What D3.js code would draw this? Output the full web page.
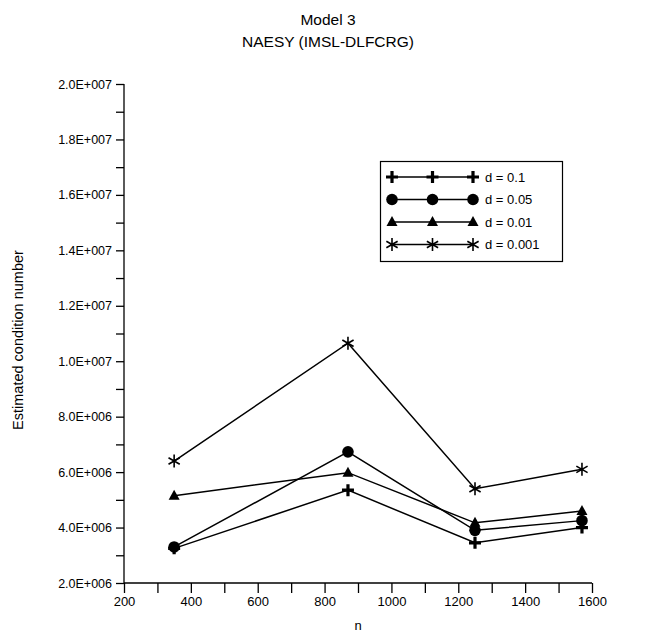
<!DOCTYPE html>
<html><head><meta charset="utf-8">
<script src="https://cdn.jsdelivr.net/npm/d3@7"></script>
<style>body{margin:0;background:#fff}svg{display:block}text{font-family:"Liberation Sans",Arial,sans-serif;fill:#000}</style>
</head><body>
<svg id="c" width="656" height="634"></svg>
<script>
const nValues = [350, 870, 1250, 1570];
const seriesNames = ["d = 0.1", "d = 0.05", "d = 0.01", "d = 0.001"];
const d01 = [3.25e6, 5.35e6, 3.45e6, 4.0e6];
const d005 = [3.3e6, 6.73e6, 3.9e6, 4.25e6];
const d001 = [5.15e6, 5.98e6, 4.17e6, 4.6e6];
const d0001 = [6.4e6, 10.65e6, 5.4e6, 6.1e6];
const xTicks = [200, 400, 600, 800, 1000, 1200, 1400, 1600];
const yTicks = [2e6, 4e6, 6e6, 8e6, 10e6, 12e6, 14e6, 16e6, 18e6, 20e6];
const markers = ["plus", "circle", "triangle", "star"];

const series = [d01, d005, d001, d0001].map((v, i) => ({name: seriesNames[i], marker: markers[i], values: v}));

const svg = d3.select("#c");
const L = 124, R = 592, T = 84, B = 583;
const x = d3.scaleLinear().domain([200, 1600]).range([L, R]);
const y = d3.scaleLinear().domain([2e6, 2e7]).range([B, T]);

function fmt(v){
  const e = Math.floor(Math.log10(v));
  const m = v / Math.pow(10, e);
  return m.toFixed(1) + "E+" + String(e).padStart(3, "0");
}

// title
svg.append("text").attr("x", 328).attr("y", 25).attr("text-anchor", "middle").style("font-size", "15.5px").text("Model 3");
svg.append("text").attr("x", 328).attr("y", 47).attr("text-anchor", "middle").style("font-size", "15.5px").text("NAESY (IMSL-DLFCRG)");

// y axis
const yAxis = d3.axisLeft(y).tickValues(d3.range(2e6, 2.0001e7, 1e6)).tickSize(8).tickFormat(d => yTicks.includes(d) ? fmt(d) : "");
const gy = svg.append("g").attr("transform", `translate(${L},0)`).call(yAxis);
gy.select(".domain").attr("d", `M0,${T}V${B}`);
gy.selectAll("line").attr("stroke-width", 1.3);
gy.select(".domain").attr("stroke-width", 1.3);
gy.selectAll("text").style("font-size", "12.5px").style("font-family", "Liberation Sans, Arial, sans-serif").attr("x", -12);

// x axis
const xAxis = d3.axisBottom(x).tickValues(d3.range(200, 1601, 100)).tickSize(10).tickFormat(d => xTicks.includes(d) ? d : "");
const gx = svg.append("g").attr("transform", `translate(0,${B})`).call(xAxis);
gx.select(".domain").attr("d", `M${L},0H${R}`).attr("stroke-width", 1.3);
gx.selectAll("line").attr("stroke-width", 1.3);
gx.selectAll("text").style("font-size", "13px").style("font-family", "Liberation Sans, Arial, sans-serif").attr("y", 14);

// axis titles
svg.append("text").attr("transform", `translate(23,340) rotate(-90)`).attr("text-anchor", "middle").style("font-size", "14.5px").text("Estimated condition number");
svg.append("text").attr("x", (L+R)/2).attr("y", 630).attr("text-anchor", "middle").style("font-size", "13px").text("n");

function drawMarker(g, type, cx, cy){
  if (type === "plus") {
    g.append("path").attr("d", `M${cx-6},${cy}H${cx+6}M${cx},${cy-6}V${cy+6}`).attr("stroke", "#000").attr("stroke-width", 3.2).attr("fill", "none");
  } else if (type === "circle") {
    g.append("circle").attr("cx", cx).attr("cy", cy).attr("r", 5.8).attr("fill", "#000");
  } else if (type === "triangle") {
    g.append("path").attr("d", `M${cx},${cy-6}L${cx+5.5},${cy+4}L${cx-5.5},${cy+4}Z`).attr("fill", "#000");
  } else {
    const r = 6.5;
    let d = `M${cx},${cy-r}V${cy+r}`;
    [30, -30].forEach(a => {
      const dx = r*Math.cos(a*Math.PI/180), dy = r*Math.sin(a*Math.PI/180);
      d += `M${cx-dx},${cy-dy}L${cx+dx},${cy+dy}`;
    });
    g.append("path").attr("d", d).attr("stroke", "#000").attr("stroke-width", 1.6).attr("fill", "none");
  }
}

const line = d3.line().x((d, i) => x(nValues[i])).y(d => y(d));
const gs = svg.append("g");
series.forEach(s => {
  gs.append("path").attr("d", line(s.values)).attr("fill", "none").attr("stroke", "#000").attr("stroke-width", 1.5);
});
series.forEach(s => {
  s.values.forEach((v, i) => drawMarker(gs, s.marker, x(nValues[i]), y(v)));
});

// legend
const lg = svg.append("g");
lg.append("rect").attr("x", 380.5).attr("y", 161.5).attr("width", 182).attr("height", 100).attr("fill", "#fff").attr("stroke", "#000").attr("stroke-width", 1.2);
const rowY = [177, 199.5, 222, 244.5];
series.forEach((s, i) => {
  const yy = rowY[i];
  lg.append("path").attr("d", `M392,${yy}H473`).attr("stroke", "#000").attr("stroke-width", 1.3);
  [392, 432.5, 473].forEach(xx => drawMarker(lg, s.marker, xx, yy));
  lg.append("text").attr("x", 485).attr("y", yy + 4.5).style("font-size", "13px").text(s.name);
});
</script>
</body></html>
